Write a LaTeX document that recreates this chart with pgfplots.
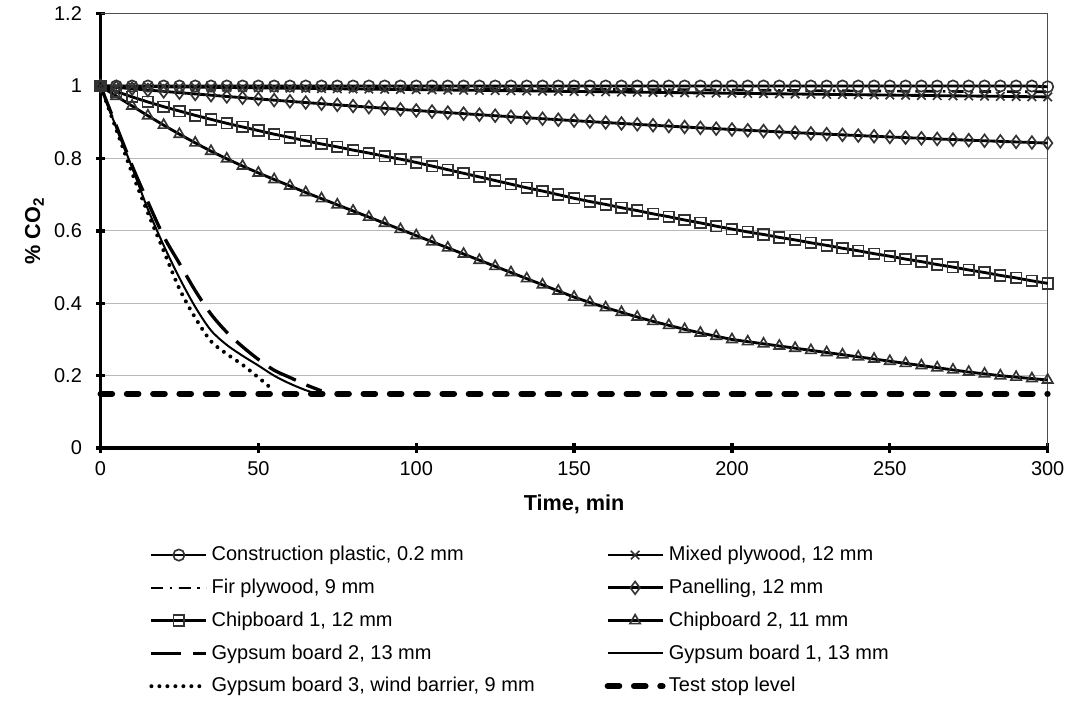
\documentclass[border=0pt]{standalone}
\usepackage{pgfplots}
\pgfplotsset{compat=1.18}
\usepackage{fontspec}
\setmainfont{Liberation Sans}

\begin{document}
\fontsize{12}{14.5}\selectfont
\begin{tikzpicture}
\begin{axis}[
    scale only axis,
    width=569pt, height=261pt,
    xmin=0, xmax=300, ymin=0, ymax=1.2,
    xtick={0,50,...,300},
    ytick={0,0.2,0.4,0.6,0.8,1,1.2},
    axis lines*=left,
    axis line style={draw=none},
    major tick style={line width=2pt, black},
    major tick length=6pt,
    tick align=center,
    ymajorgrids,
    grid style={gray!55, line width=0.6pt},
    /pgf/number format/assume math mode=true,
    ticklabel style={font=\fontsize{12}{14.5}\selectfont},
    yticklabel style={xshift=-4pt},
    xticklabel style={yshift=-1pt},
    xlabel={\bfseries Time, min},
    ylabel={\bfseries \% CO\textsubscript{2}},
    label style={font=\fontsize{13}{15}\selectfont},
    xlabel style={yshift=-3pt},
    ylabel style={yshift=-2pt},
    clip=false,
    legend columns=2,
    legend cell align=left,
    legend style={at={(0.046,-0.21)}, anchor=north west, draw=none, fill=none,
        /tikz/every even column/.append style={column sep=40pt},
        row sep=5.2pt, font=\fontsize{12}{14.5}\selectfont},
    legend image code/.code={
        \draw[mark repeat=2, mark phase=2, #1]
        plot coordinates {(0cm,0cm) (0.58cm,0cm) (1.16cm,0cm)};},
    mk/.style={mark options={solid, draw=black!80, fill=none, line width=1pt}},
]
\draw[black!70, line width=0.8pt] (rel axis cs:0,1) -- (rel axis cs:1,1) -- (rel axis cs:1,0);

% Construction plastic, 0.2 mm
\addplot[black, line width=1.7pt, mark=o, mark size=3.4pt, mk] coordinates {
(0,1) (5,1) (10,1) (15,1) (20,1) (25,1) (30,1) (35,1) (40,1) (45,1) (50,1)
(55,1) (60,1) (65,1) (70,1) (75,1) (80,1) (85,1) (90,1) (95,1) (100,1)
(105,1) (110,1) (115,1) (120,1) (125,1) (130,1) (135,1) (140,1) (145,1) (150,1)
(155,1) (160,1) (165,1) (170,1) (175,1) (180,1) (185,1) (190,1) (195,1) (200,1)
(205,1) (210,1) (215,1) (220,1) (225,1) (230,1) (235,1) (240,1) (245,1) (250,1)
(255,1) (260,1) (265,1) (270,1) (275,1) (280,1) (285,1) (290,1) (295,1) (300,0.998)};
\addlegendentry{Construction plastic, 0.2 mm}

% Mixed plywood, 12 mm
\addplot[black, line width=1.7pt, mark=x, mark size=3.6pt, mk] coordinates {
(0,1) (5,0.9995) (10,0.999) (15,0.9985) (20,0.998) (25,0.9975) (30,0.997) (35,0.9965) (40,0.996) (45,0.9955) (50,0.995)
(55,0.9945) (60,0.994) (65,0.9935) (70,0.993) (75,0.9925) (80,0.992) (85,0.9915) (90,0.991) (95,0.9905) (100,0.99)
(105,0.9895) (110,0.989) (115,0.9885) (120,0.988) (125,0.9875) (130,0.987) (135,0.9865) (140,0.986) (145,0.9855) (150,0.985)
(155,0.9845) (160,0.984) (165,0.9835) (170,0.983) (175,0.9825) (180,0.982) (185,0.9815) (190,0.981) (195,0.9805) (200,0.98)
(205,0.9795) (210,0.979) (215,0.9785) (220,0.978) (225,0.9775) (230,0.977) (235,0.9765) (240,0.976) (245,0.9755) (250,0.975)
(255,0.9745) (260,0.974) (265,0.9735) (270,0.973) (275,0.9725) (280,0.972) (285,0.9715) (290,0.971) (295,0.9705) (300,0.97)};
\addlegendentry{Mixed plywood, 12 mm}

% Fir plywood, 9 mm
\addplot[black, line width=1.6pt, dash pattern=on 7pt off 4pt on 1.5pt off 4pt] coordinates {
(0,1) (50,0.997) (100,0.994) (150,0.991) (200,0.989) (250,0.986) (300,0.984)};
\addlegendentry{Fir plywood, 9 mm}

% Panelling, 12 mm
\addplot[black, line width=1.7pt, mark=diamond, mark size=3.8pt, mk] coordinates {
(0,1) (5,0.9963) (10,0.9926) (15,0.9889) (20,0.9853) (25,0.9817) (30,0.9782) (35,0.9747) (40,0.9712) (45,0.9678) (50,0.9644)
(55,0.9610) (60,0.9577) (65,0.9544) (70,0.9512) (75,0.9480) (80,0.9448) (85,0.9417) (90,0.9386) (95,0.9355) (100,0.9325)
(105,0.9295) (110,0.9266) (115,0.9237) (120,0.9208) (125,0.9180) (130,0.9152) (135,0.9124) (140,0.9097) (145,0.9070) (150,0.9044)
(155,0.9018) (160,0.8992) (165,0.8967) (170,0.8942) (175,0.8917) (180,0.8893) (185,0.8869) (190,0.8846) (195,0.8823) (200,0.8800)
(205,0.8778) (210,0.8756) (215,0.8734) (220,0.8713) (225,0.8692) (230,0.8672) (235,0.8652) (240,0.8632) (245,0.8613) (250,0.8594)
(255,0.8575) (260,0.8557) (265,0.8539) (270,0.8522) (275,0.8505) (280,0.8488) (285,0.8472) (290,0.8456) (295,0.8440) (300,0.8425)};
\addlegendentry{Panelling, 12 mm}

% Chipboard 1, 12 mm
\addplot[black, line width=1.7pt, mark=square, mark size=3.2pt, mk] coordinates {
(0,1) (5,0.985) (10,0.970) (15,0.956) (20,0.943) (25,0.931) (30,0.919) (35,0.908) (40,0.897) (45,0.887) (50,0.877)
(55,0.867) (60,0.858) (65,0.849) (70,0.840) (75,0.832) (80,0.823) (85,0.815) (90,0.806) (95,0.798) (100,0.789)
(105,0.779) (110,0.769) (115,0.759) (120,0.749) (125,0.739) (130,0.729) (135,0.719) (140,0.710) (145,0.700) (150,0.690)
(155,0.681) (160,0.673) (165,0.664) (170,0.656) (175,0.647) (180,0.639) (185,0.630) (190,0.622) (195,0.613) (200,0.605)
(205,0.597) (210,0.590) (215,0.582) (220,0.575) (225,0.567) (230,0.560) (235,0.552) (240,0.545) (245,0.537) (250,0.530)
(255,0.522) (260,0.515) (265,0.507) (270,0.500) (275,0.492) (280,0.485) (285,0.477) (290,0.470) (295,0.462) (300,0.455)};
\addlegendentry{Chipboard 1, 12 mm}

% Chipboard 2, 11 mm
\addplot[black, line width=1.7pt, mark=triangle, mark size=3.6pt, mk] coordinates {
(0,1) (5,0.972) (10,0.945) (15,0.918) (20,0.892) (25,0.867) (30,0.843) (35,0.820) (40,0.799) (45,0.779) (50,0.760)
(55,0.742) (60,0.724) (65,0.706) (70,0.689) (75,0.672) (80,0.655) (85,0.638) (90,0.621) (95,0.604) (100,0.587)
(105,0.570) (110,0.553) (115,0.536) (120,0.519) (125,0.502) (130,0.485) (135,0.468) (140,0.451) (145,0.434) (150,0.417)
(155,0.402) (160,0.388) (165,0.375) (170,0.362) (175,0.350) (180,0.339) (185,0.328) (190,0.318) (195,0.309) (200,0.300)
(205,0.294) (210,0.288) (215,0.282) (220,0.276) (225,0.270) (230,0.264) (235,0.258) (240,0.252) (245,0.246) (250,0.240)
(255,0.234) (260,0.228) (265,0.222) (270,0.216) (275,0.210) (280,0.205) (285,0.200) (290,0.196) (295,0.192) (300,0.188)};
\addlegendentry{Chipboard 2, 11 mm}

% Gypsum board 2, 13 mm
\addplot[black, line width=2pt, smooth, dash pattern=on 18pt off 7pt] coordinates {
(0,1) (5,0.89) (10,0.78) (15,0.68) (20,0.585) (25,0.51) (30,0.435) (35,0.37) (40,0.32)
(45,0.28) (50,0.245) (55,0.215) (60,0.195) (65,0.175) (70,0.158)};
\addlegendentry{Gypsum board 2, 13 mm}

% Gypsum board 1, 13 mm
\addplot[black, line width=1.2pt, smooth] coordinates {
(0,1) (5,0.885) (10,0.775) (15,0.66) (20,0.56) (25,0.47) (30,0.39) (35,0.325) (40,0.285)
(45,0.255) (50,0.228) (55,0.2) (60,0.178) (65,0.16) (68,0.152)};
\addlegendentry{Gypsum board 1, 13 mm}

% Gypsum board 3, wind barrier, 9 mm
\addplot[black, line width=2.4pt, smooth, line cap=round, dash pattern=on 0pt off 4.8pt] coordinates {
(0,1) (5,0.88) (10,0.76) (15,0.65) (20,0.545) (25,0.44) (30,0.36) (35,0.295) (40,0.26)
(45,0.23) (50,0.195) (55,0.158)};
\addlegendentry{Gypsum board 3, wind barrier, 9 mm}

% Test stop level
\addplot[black, line width=3.6pt, line cap=round, dash pattern=on 7pt off 8.8pt] coordinates {
(0,0.15) (300,0.15)};
\addlegendentry{Test stop level}

\draw[black, line width=2.2pt] (rel axis cs:0,1) -- (rel axis cs:0,0) -- (rel axis cs:1,0);
\end{axis}
\path ([xshift=-11pt]current axis.outer west);
\end{tikzpicture}
\end{document}
